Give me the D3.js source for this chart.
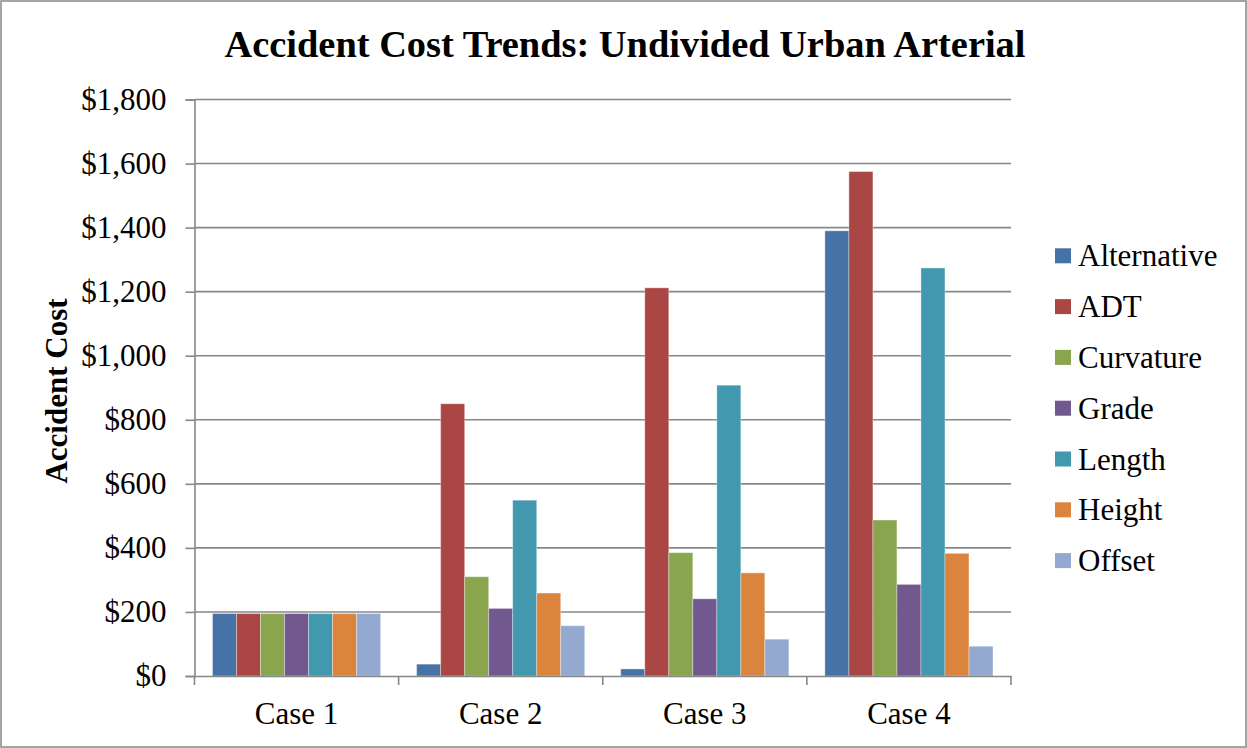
<!DOCTYPE html>
<html><head><meta charset="utf-8">
<script src="https://cdn.jsdelivr.net/npm/d3@7"></script>
<style>html,body{margin:0;padding:0;background:#fff;}svg{display:block;}</style>
</head><body>
<svg id="c" width="1247" height="748"></svg>
<script>
const categories = ["Case 1", "Case 2", "Case 3", "Case 4"];
const seriesNames = ["Alternative", "ADT", "Curvature", "Grade", "Length", "Height", "Offset"];
const alternative = [195, 37, 22, 1390];
const adt = [195, 850, 1212, 1575];
const curvature = [195, 310, 385, 487];
const grade = [195, 211, 241, 286];
const lengthS = [195, 549, 908, 1274];
const height = [195, 259, 322, 383];
const offset = [195, 157, 115, 93];
const seriesValues = [alternative, adt, curvature, grade, lengthS, height, offset];
const colors = ["#4572A7", "#AA4643", "#89A54E", "#71588F", "#4198AF", "#DB843D", "#93A9CF"];
const yTicks = [0, 200, 400, 600, 800, 1000, 1200, 1400, 1600, 1800];

const svg = d3.select("#c");
const font = "'Liberation Serif','Times New Roman',serif";
const L = 194.5, R = 1011, T = 99.5, B = 676;

svg.append("rect").attr("x", 1).attr("y", 1).attr("width", 1245).attr("height", 746)
  .attr("fill", "#fff").attr("stroke", "#878787").attr("stroke-width", 1.5);

const x0 = d3.scaleBand().domain(categories).range([L, R]).padding(0);
const x1 = d3.scaleBand().domain(seriesNames).range([0, x0.bandwidth()]).paddingInner(0).paddingOuter(0.75);
const y = d3.scaleLinear().domain([0, 1800]).range([B, T]);

// gridlines
svg.append("g").selectAll("line").data(yTicks.filter(d => d > 0)).join("line")
  .attr("x1", L).attr("x2", R).attr("y1", d => y(d)).attr("y2", d => y(d))
  .attr("stroke", "#878787").attr("stroke-width", 1.6);

// bars
const data = [];
categories.forEach((c, i) => seriesNames.forEach((s, j) => data.push({c, s, v: seriesValues[j][i], j})));
svg.append("g").selectAll("rect").data(data).join("rect")
  .attr("x", d => x0(d.c) + x1(d.s))
  .attr("width", x1.bandwidth())
  .attr("y", d => y(d.v))
  .attr("height", d => B - y(d.v))
  .attr("fill", d => colors[d.j])
  .attr("stroke", "rgba(255,255,255,0.35)").attr("stroke-width", 1);

// y axis
const yAxis = d3.axisLeft(y).tickValues(yTicks).tickSize(9).tickPadding(19)
  .tickFormat(d => "$" + d3.format(",")(d));
const gy = svg.append("g").attr("transform", `translate(${L},0)`).call(yAxis);
gy.select(".domain").attr("stroke", "#878787").attr("stroke-width", 1.6);
gy.selectAll(".tick line").attr("stroke", "#878787").attr("stroke-width", 1.6);
gy.selectAll("text").attr("font-family", font).attr("font-size", 31).attr("fill", "#000");

// x axis
const xAxis = d3.axisBottom(x0).tickSize(0).tickPadding(0);
const gx = svg.append("g").attr("transform", `translate(0,${B})`).call(xAxis);
gx.select(".domain").attr("stroke", "#878787").attr("stroke-width", 1.6);
gx.selectAll("text").attr("font-family", font).attr("font-size", 31).attr("fill", "#000")
  .attr("dy", null).attr("y", 48);
// category boundary ticks
gx.append("g").selectAll("line").data(categories.concat(["end"])).join("line")
  .attr("x1", (d, i) => i < categories.length ? x0(d) : R)
  .attr("x2", (d, i) => i < categories.length ? x0(d) : R)
  .attr("y1", 0).attr("y2", 9).attr("stroke", "#878787").attr("stroke-width", 1.6);

// title
svg.append("text").attr("x", 625).attr("y", 57).attr("text-anchor", "middle")
  .attr("font-family", font).attr("font-weight", "bold").attr("font-size", 38.4)
  .text("Accident Cost Trends: Undivided Urban Arterial");

// y title
svg.append("text").attr("transform", "translate(67,391) rotate(-90)").attr("text-anchor", "middle")
  .attr("font-family", font).attr("font-weight", "bold").attr("font-size", 31)
  .text("Accident Cost");

// legend
const lg = svg.append("g").selectAll("g").data(seriesNames).join("g")
  .attr("transform", (d, i) => `translate(1055,${255.8 + i * 50.8})`);
lg.append("rect").attr("x", 0).attr("y", -7.5).attr("width", 16).attr("height", 15)
  .attr("fill", (d, i) => colors[i]);
lg.append("text").attr("x", 23).attr("y", 10.5).attr("font-family", font).attr("font-size", 31)
  .text(d => d);
</script>
</body></html>
